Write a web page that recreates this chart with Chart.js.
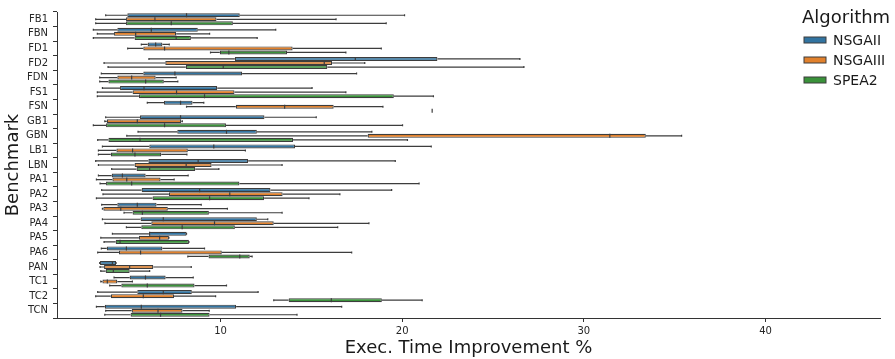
<!DOCTYPE html>
<html>
<head>
<meta charset="utf-8">
<script src="https://cdn.jsdelivr.net/npm/chart.js@4.4.1/dist/chart.umd.min.js"></script>
<style>
html,body{margin:0;padding:0;background:#fff;}
#c{display:block;}
</style>
</head>
<body>
<canvas id="c" width="895" height="359"></canvas>
<script>
// Categories (benchmarks)
const categories = ['FB1','FBN','FD1','FD2','FDN','FS1','FSN','GB1','GBN','LB1','LBN','PA1','PA2','PA3','PA4','PA5','PA6','PAN','TC1','TC2','TCN'];
const algorithms = ['NSGAII','NSGAIII','SPEA2'];
const xTicks = [10,20,30,40];

// [whisker low, Q1, median, Q3, whisker high]
const nsga2 = [
  [3.68,4.87,8.13,11.06,20.13],
  [3.0,4.32,6.19,8.75,13.04],
  [5.64,5.99,6.43,6.8,7.18],
  [6.06,10.79,17.42,21.94,26.48],
  [3.44,5.75,7.49,11.19,17.49],
  [3.5,4.47,5.79,9.82,15.04],
  [5.97,6.89,7.8,8.46,9.08],
  [3.68,5.57,7.8,12.42,15.27],
  [5.46,7.62,10.33,12.0,18.33],
  [3.5,6.08,9.63,14.1,21.6],
  [3.13,6.03,8.77,11.52,19.62],
  [3.28,4.01,4.6,5.88,8.22],
  [3.46,5.66,8.85,12.75,19.42],
  [3.46,4.32,5.42,6.48,8.94],
  [3.5,5.6,6.85,12.0,12.6],
  [4.05,6.06,6.1,8.13,8.13],
  [3.44,3.74,4.82,6.8,9.12],
  [3.35,3.37,4.05,4.25,4.25],
  [4.14,5.0,5.87,6.98,8.5],
  [3.24,5.42,6.85,8.42,12.07],
  [3.17,3.63,5.64,10.86,16.67]
];
const nsga3 = [
  [3.13,4.8,6.39,9.78,16.36],
  [3.22,4.14,5.33,7.56,9.4],
  [4.89,5.75,6.92,13.97,18.85],
  [3.59,6.96,15.71,16.14,17.94],
  [3.35,4.32,5.11,6.43,7.56],
  [3.22,5.16,7.58,10.77,16.9],
  [8.13,10.84,13.53,16.23,18.94],
  [3.63,3.74,5.42,7.84,7.9],
  [4.84,18.1,31.43,33.41,35.38],
  [3.28,4.27,5.16,8.2,11.37],
  [3.28,5.27,8.11,9.51,13.39],
  [3.17,4.05,4.84,6.7,7.45],
  [3.53,7.16,10.51,13.42,16.57],
  [3.5,3.55,4.51,7.1,10.38],
  [3.64,6.19,9.67,12.93,18.17],
  [3.41,5.51,6.65,7.16,7.16],
  [3.24,4.41,5.6,10.07,17.22],
  [3.37,3.59,5.0,6.3,8.39],
  [3.41,3.5,3.77,4.32,5.15],
  [3.13,3.96,5.75,7.44,9.73],
  [3.68,5.11,6.56,7.91,9.38]
];
const spea2 = [
  [3.13,4.8,7.29,10.68,19.12],
  [3.0,5.27,7.56,8.37,12.02],
  [9.45,9.96,10.46,13.66,16.9],
  [3.81,8.09,10.15,15.88,26.7],
  [3.35,3.83,5.88,6.88,7.65],
  [3.22,5.51,9.12,19.54,21.72],
  [21.65,21.65,21.65,21.65,21.65],
  [3.0,3.7,6.92,10.3,20.02],
  [3.24,3.83,5.57,13.99,20.29],
  [3.28,3.96,5.29,6.74,8.15],
  [4.01,5.38,6.1,8.61,9.91],
  [3.37,3.7,5.11,11.04,20.93],
  [3.17,6.26,9.4,12.4,14.87],
  [4.69,5.16,5.7,9.36,13.39],
  [4.82,5.64,7.89,10.79,16.45],
  [3.59,4.23,4.47,8.26,8.26],
  [8.2,9.34,11.06,11.61,11.74],
  [3.41,3.68,4.1,5.0,6.1],
  [3.9,4.54,5.97,8.57,10.33],
  [12.93,13.75,16.1,18.88,21.1],
  [3.63,5.05,6.7,9.4,14.21]
];

const series = [nsga2, nsga3, spea2];
const colors = ['#3274a1','#e1812c','#3a923a'];
const edge = '#3d3d3d';
const FONT = '"DejaVu Sans", sans-serif';

const whiskerPlugin = {
  id: 'whiskers',
  afterDatasetsDraw(chart) {
    const ctx = chart.ctx;
    const xs = chart.scales.x;
    ctx.save();
    ctx.strokeStyle = edge;
    ctx.lineWidth = 1.2;
    series.forEach((s, di) => {
      const meta = chart.getDatasetMeta(di);
      meta.data.forEach((el, j) => {
        const st = s[j];
        const y = el.y;
        const h = el.height;
        const p = st.map(v => xs.getPixelForValue(v));
        ctx.beginPath();
        // whiskers
        ctx.moveTo(p[0], y); ctx.lineTo(p[1], y);
        ctx.moveTo(p[3], y); ctx.lineTo(p[4], y);
        // caps
        ctx.moveTo(p[0], y - h/4); ctx.lineTo(p[0], y + h/4);
        ctx.moveTo(p[4], y - h/4); ctx.lineTo(p[4], y + h/4);
        // median
        ctx.moveTo(p[2], y - h/2); ctx.lineTo(p[2], y + h/2);
        ctx.stroke();
      });
    });
    ctx.restore();
  },
  afterDraw(chart) {
    const ctx = chart.ctx;
    const ca = chart.chartArea;
    ctx.save();
    ctx.fillStyle = '#1a1a1a';
    // x axis title
    ctx.font = '18px ' + FONT;
    ctx.textAlign = 'center';
    ctx.textBaseline = 'alphabetic';
    ctx.fillText('Exec. Time Improvement %', (ca.left + ca.right)/2, 353);
    // y axis title
    ctx.save();
    ctx.translate(18, (ca.top + ca.bottom)/2);
    ctx.rotate(-Math.PI/2);
    ctx.fillText('Benchmark', 0, 0);
    ctx.restore();
    // legend
    ctx.textAlign = 'left';
    ctx.font = '18px ' + FONT;
    ctx.fillText('Algorithm', 802, 23);
    ctx.font = '14px ' + FONT;
    algorithms.forEach((name, i) => {
      const cy = 40 + i*20;
      ctx.fillStyle = colors[i];
      ctx.fillRect(804, cy - 3, 22, 6);
      ctx.strokeStyle = edge;
      ctx.lineWidth = 1;
      ctx.strokeRect(804, cy - 3, 22, 6);
      ctx.fillStyle = '#1a1a1a';
      ctx.fillText(name, 833, cy + 5);
    });
    ctx.restore();
  }
};

new Chart(document.getElementById('c'), {
  type: 'bar',
  data: {
    labels: categories,
    datasets: series.map((s, i) => ({
      label: algorithms[i],
      data: s.map(r => [r[1], r[3]]),
      backgroundColor: colors[i],
      borderColor: edge,
      borderWidth: 1.2,
      borderSkipped: false,
      barPercentage: 1.0,
      categoryPercentage: 0.83
    }))
  },
  options: {
    indexAxis: 'y',
    responsive: false,
    animation: false,
    devicePixelRatio: 1,
    layout: { padding: { top: 12, right: 15, left: 0, bottom: 0 } },
    plugins: { legend: { display: false }, tooltip: { enabled: false } },
    scales: {
      x: {
        type: 'linear',
        min: 1.0,
        max: 46.3,
        afterBuildTicks(scale) { scale.ticks = xTicks.map(v => ({ value: v })); },
        afterFit(scale) { scale.height = 41; },
        grid: { drawOnChartArea: false, drawTicks: true, tickLength: 4, color: '#333' },
        border: { display: true, color: '#333', width: 1 },
        ticks: { font: { family: FONT, size: 10 }, color: '#262626', padding: 3, maxRotation: 0 }
      },
      y: {
        type: 'category',
        afterFit(scale) { scale.width = 57; },
        grid: { drawOnChartArea: false, drawTicks: true, tickLength: 4, color: '#333' },
        border: { display: true, color: '#333', width: 1 },
        ticks: { font: { family: FONT, size: 10 }, color: '#262626', padding: 5, autoSkip: false }
      }
    }
  },
  plugins: [whiskerPlugin]
});
</script>
</body>
</html>
